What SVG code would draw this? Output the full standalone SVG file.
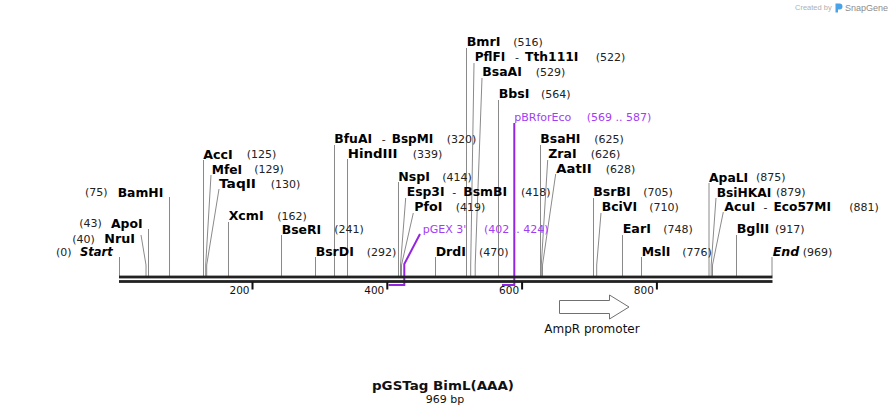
<svg xmlns="http://www.w3.org/2000/svg" width="892" height="415" viewBox="0 0 892 415">
<style>
.n{font-family:"DejaVu Sans",Verdana,sans-serif;font-size:12px;font-weight:bold;fill:#000}
.i{font-style:italic}
.c{font-family:"DejaVu Sans",Verdana,sans-serif;font-size:11px;fill:#222}
.p{font-family:"DejaVu Sans",Verdana,sans-serif;font-size:11px;fill:#a33cf5}
.tk{font-family:"DejaVu Sans",Verdana,sans-serif;font-size:10.5px;fill:#111}
.l{stroke:#8a8a8a;stroke-width:1;fill:none}
.pl{stroke:#9326e0;stroke-width:2;fill:none}
.t{font-family:"DejaVu Sans",Verdana,sans-serif;font-weight:bold;font-size:13px;fill:#111;text-anchor:middle}
.s{font-family:"DejaVu Sans",Verdana,sans-serif;font-size:11px;fill:#111;text-anchor:middle}
</style>
<rect width="892" height="415" fill="#fff"/>

<g id="logo">
<text x="795" y="10" font-family="Liberation Sans,Arial,sans-serif" font-size="7.5" fill="#b0b0b0">Created by</text>
<path d="M835.5 3.5 h4 a3 3 0 0 1 0 6 h-1.5 v3 h-2.5 z" fill="#4aa3e6"/>
<text x="845" y="11" font-family="Liberation Sans,Arial,sans-serif" font-size="9" fill="#8c8c8c">SnapGene</text>
</g>

<g id="connectors">
<path class="l" d="M119.5 257V276"/>
<path class="l" d="M141 235L146 265V276"/>
<path class="l" d="M148.5 229V276"/>
<path class="l" d="M169.5 197V276"/>
<path class="l" d="M203.5 160V276"/>
<path class="l" d="M211 175L205.7 265V276"/>
<path class="l" d="M219 189L206.7 265V276"/>
<path class="l" d="M228.5 222V276"/>
<path class="l" d="M281.5 235V276"/>
<path class="l" d="M315.5 257V276"/>
<path class="l" d="M334.5 145V276"/>
<path class="l" d="M347.5 159V276"/>
<path class="l" d="M398.5 182V276"/>
<path class="l" d="M405.7 198L400.5 265V276"/>
<path class="l" d="M413.3 213L401.5 265V276"/>
<path class="l" d="M435.5 257V276"/>
<path class="l" d="M466.5 48V276"/>
<path class="l" d="M474 63L470.7 265V276"/>
<path class="l" d="M482 78L475.2 265V276"/>
<path class="l" d="M498.5 100V276"/>
<path class="l" d="M540.5 145V276"/>
<path class="l" d="M547.7 160L541.3 265V276"/>
<path class="l" d="M555.7 174L542.5 265V276"/>
<path class="l" d="M593.5 198V276"/>
<path class="l" d="M601 213L596.7 265V276"/>
<path class="l" d="M622.5 235V276"/>
<path class="l" d="M641.5 257V276"/>
<path class="l" d="M709 183V276"/>
<path class="l" d="M716 198L711.2 265V276"/>
<path class="l" d="M723.3 212L712.5 265V276"/>
<path class="l" d="M736.5 235V276"/>
<path class="l" d="M772 257V276"/>
<path class="pl" d="M420 234L404.3 264V285H388.5"/>
<path class="pl" d="M514.3 123V285H502"/>
</g>

<g id="backbone">
<rect x="119" y="275.6" width="653.5" height="2.8" fill="#222"/>
<rect x="119" y="280.1" width="653.5" height="2.8" fill="#222"/>
<rect x="251.5" y="282" width="2" height="7.5" fill="#111"/>
<rect x="386.3" y="282" width="2" height="7.5" fill="#111"/>
<rect x="521.1" y="282" width="2" height="7.5" fill="#111"/>
<rect x="655.9" y="282" width="2" height="7.5" fill="#111"/>
<text class="tk" x="249.5" y="293.5" text-anchor="end">200</text>
<text class="tk" x="384.3" y="293.5" text-anchor="end">400</text>
<text class="tk" x="519.1" y="293.5" text-anchor="end">600</text>
<text class="tk" x="653.9" y="293.5" text-anchor="end">800</text>
</g>

<g id="Start"><text class="c" x="56" y="256">(0)</text><text class="n i" x="80" y="256.4" textLength="32.8" lengthAdjust="spacingAndGlyphs">Start</text></g>
<g id="NruI"><text class="c" x="72.3" y="242.7">(40)</text><text class="n" x="104.3" y="243.1" textLength="30.7" lengthAdjust="spacingAndGlyphs">NruI</text></g>
<g id="ApoI"><text class="c" x="79.3" y="227.3">(43)</text><text class="n" x="111" y="227.7" textLength="31.6" lengthAdjust="spacingAndGlyphs">ApoI</text></g>
<g id="BamHI"><text class="c" x="85" y="196.3">(75)</text><text class="n" x="117.7" y="196.7" textLength="45.6" lengthAdjust="spacingAndGlyphs">BamHI</text></g>
<g id="AccI"><text class="n" x="203.3" y="158.7" textLength="29.5" lengthAdjust="spacingAndGlyphs">AccI</text><text class="c" x="246.7" y="158.3">(125)</text></g>
<g id="MfeI"><text class="n" x="211.7" y="173.7" textLength="30.4" lengthAdjust="spacingAndGlyphs">MfeI</text><text class="c" x="254.3" y="173.3">(129)</text></g>
<g id="TaqII"><text class="n" x="219" y="188.4" textLength="37" lengthAdjust="spacingAndGlyphs">TaqII</text><text class="c" x="270.7" y="188">(130)</text></g>
<g id="XcmI"><text class="n" x="228.7" y="220.4" textLength="34.9" lengthAdjust="spacingAndGlyphs">XcmI</text><text class="c" x="277.3" y="220">(162)</text></g>
<g id="BseRI"><text class="n" x="281.7" y="233.7" textLength="39.5" lengthAdjust="spacingAndGlyphs">BseRI</text><text class="c" x="334.3" y="233.3">(241)</text></g>
<g id="BsrDI"><text class="n" x="315.7" y="256.4" textLength="38.1" lengthAdjust="spacingAndGlyphs">BsrDI</text><text class="c" x="366.7" y="256">(292)</text></g>
<g id="BfuAI-BspMI"><text class="n" x="334.3" y="143.4" textLength="37.8" lengthAdjust="spacingAndGlyphs">BfuAI</text><text class="c" x="381.7" y="143">-</text><text class="n" x="391.7" y="143.4" textLength="41.5" lengthAdjust="spacingAndGlyphs">BspMI</text><text class="c" x="446.7" y="143">(320)</text></g>
<g id="HindIII"><text class="n" x="347.7" y="158.1" textLength="49.8" lengthAdjust="spacingAndGlyphs">HindIII</text><text class="c" x="412.7" y="157.7">(339)</text></g>
<g id="NspI"><text class="n" x="398.3" y="181.4" textLength="31.7" lengthAdjust="spacingAndGlyphs">NspI</text><text class="c" x="442.3" y="181">(414)</text></g>
<g id="Esp3I-BsmBI"><text class="n" x="406.7" y="196.1" textLength="37.9" lengthAdjust="spacingAndGlyphs">Esp3I</text><text class="c" x="452.3" y="195.7">-</text><text class="n" x="463.3" y="196.1" textLength="43.7" lengthAdjust="spacingAndGlyphs">BsmBI</text><text class="c" x="521" y="195.7">(418)</text></g>
<g id="PfoI"><text class="n" x="414.3" y="211.4" textLength="28.2" lengthAdjust="spacingAndGlyphs">PfoI</text><text class="c" x="455.7" y="211">(419)</text></g>
<g id="pGEX3"><text class="p" x="422.7" y="233.3">pGEX 3'</text><text class="p" x="484" y="233.3">(402 .. 424)</text></g>
<g id="DrdI"><text class="n" x="435.7" y="256.4" textLength="30.3" lengthAdjust="spacingAndGlyphs">DrdI</text><text class="c" x="479" y="256">(470)</text></g>
<g id="BmrI"><text class="n" x="466.7" y="46.4" textLength="33.8" lengthAdjust="spacingAndGlyphs">BmrI</text><text class="c" x="513.3" y="46">(516)</text></g>
<g id="PflFI-Tth111I"><text class="n" x="474.7" y="61.1" textLength="30.5" lengthAdjust="spacingAndGlyphs">PflFI</text><text class="c" x="515" y="60.7">-</text><text class="n" x="525" y="61.1" textLength="53.4" lengthAdjust="spacingAndGlyphs">Tth111I</text><text class="c" x="595.7" y="60.7">(522)</text></g>
<g id="BsaAI"><text class="n" x="482.3" y="76.4" textLength="39.5" lengthAdjust="spacingAndGlyphs">BsaAI</text><text class="c" x="535.7" y="76">(529)</text></g>
<g id="BbsI"><text class="n" x="498.7" y="98.4" textLength="30.7" lengthAdjust="spacingAndGlyphs">BbsI</text><text class="c" x="541" y="98">(564)</text></g>
<g id="pBRforEco"><text class="p" x="514.3" y="121.3">pBRforEco</text><text class="p" x="586.7" y="121.3">(569 .. 587)</text></g>
<g id="BsaHI"><text class="n" x="540.3" y="143.4" textLength="40.2" lengthAdjust="spacingAndGlyphs">BsaHI</text><text class="c" x="594.3" y="143">(625)</text></g>
<g id="ZraI"><text class="n" x="548.3" y="158.4" textLength="28.3" lengthAdjust="spacingAndGlyphs">ZraI</text><text class="c" x="590.7" y="158">(626)</text></g>
<g id="AatII"><text class="n" x="556.3" y="173.1" textLength="35.3" lengthAdjust="spacingAndGlyphs">AatII</text><text class="c" x="605.7" y="172.7">(628)</text></g>
<g id="BsrBI"><text class="n" x="593.3" y="196.1" textLength="37.3" lengthAdjust="spacingAndGlyphs">BsrBI</text><text class="c" x="643.3" y="195.7">(705)</text></g>
<g id="BciVI"><text class="n" x="601.7" y="211.1" textLength="35.4" lengthAdjust="spacingAndGlyphs">BciVI</text><text class="c" x="649.3" y="210.7">(710)</text></g>
<g id="EarI"><text class="n" x="622.7" y="233.4" textLength="28.2" lengthAdjust="spacingAndGlyphs">EarI</text><text class="c" x="663.3" y="233">(748)</text></g>
<g id="MslI"><text class="n" x="641.7" y="256.4" textLength="28.7" lengthAdjust="spacingAndGlyphs">MslI</text><text class="c" x="682.3" y="256">(776)</text></g>
<g id="ApaLI"><text class="n" x="709" y="181.7" textLength="39.2" lengthAdjust="spacingAndGlyphs">ApaLI</text><text class="c" x="756" y="181.3">(875)</text></g>
<g id="BsiHKAI"><text class="n" x="716.7" y="196.7" textLength="54.6" lengthAdjust="spacingAndGlyphs">BsiHKAI</text><text class="c" x="776" y="196.3">(879)</text></g>
<g id="AcuI-Eco57MI"><text class="n" x="724.3" y="211.1" textLength="30.9" lengthAdjust="spacingAndGlyphs">AcuI</text><text class="c" x="763.5" y="210.7">-</text><text class="n" x="773.5" y="211.1" textLength="57.5" lengthAdjust="spacingAndGlyphs">Eco57MI</text><text class="c" x="849.3" y="210.7">(881)</text></g>
<g id="BglII"><text class="n" x="736.7" y="233.4" textLength="32.5" lengthAdjust="spacingAndGlyphs">BglII</text><text class="c" x="775" y="233">(917)</text></g>
<g id="End"><text class="n i" x="772.7" y="256.4" textLength="26.6" lengthAdjust="spacingAndGlyphs">End</text><text class="c" x="802.7" y="256">(969)</text></g>

<g id="AmpR-promoter">
<path d="M559.5 300.5H609.5V295L629 307L609.5 319V313.5H559.5Z" fill="#fff" stroke="#707070" stroke-width="1"/>
<text class="c" x="592" y="332.5" text-anchor="middle" style="fill:#111;font-size:12px">AmpR promoter</text>
</g>

<g id="title">
<text class="t" x="443" y="389.7" textLength="142" lengthAdjust="spacingAndGlyphs">pGSTag BimL(AAA)</text>
<text class="s" x="445" y="403.3">969 bp</text>
</g>
</svg>
